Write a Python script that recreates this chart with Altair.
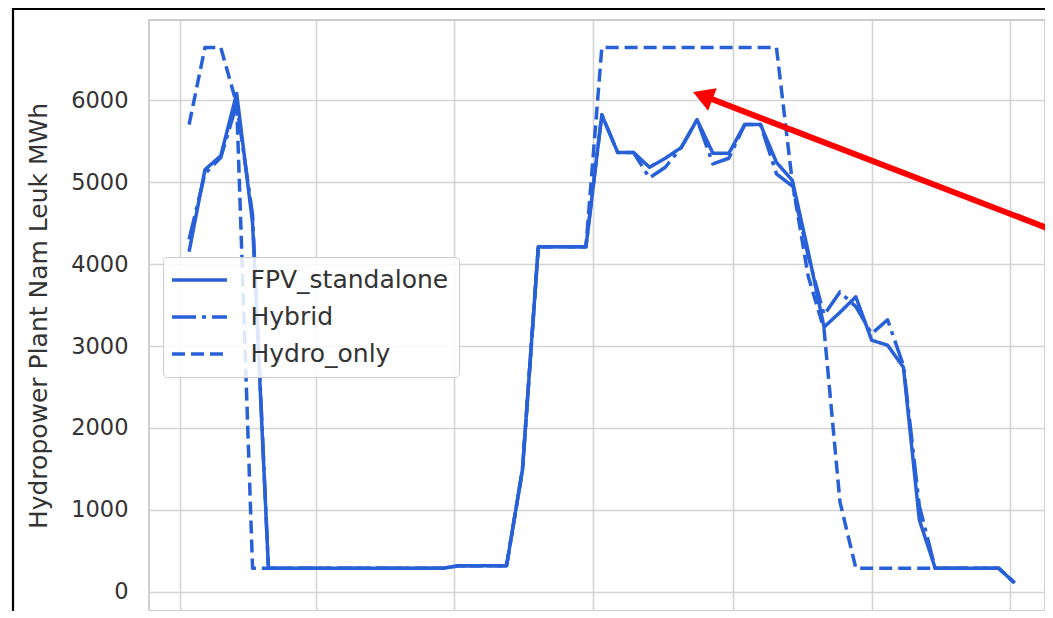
import altair as alt
import pandas as pd

BLUE = "#2860d8"
FONT = "DejaVu Sans"

# weekly observations (week-ending Sundays)
week_ending = pd.date_range("2020-01-05", periods=53, freq="7D").strftime("%Y-%m-%d").tolist()

series_names = ["FPV_standalone", "Hybrid", "Hydro_only"]

fpv_standalone = [
    4150, 5150, 5320, 6080, 4500,
    290, 290, 290, 290, 290, 290, 290, 290, 290, 290, 290, 290,
    320, 320, 320, 320,
    1490, 4210, 4210, 4210, 4210,
    5820, 5360, 5360, 5180, 5290, 5420, 5760, 5350, 5350, 5700, 5700, 5240,
    5020, 4150, 3230, 3410, 3600, 3070, 3010, 2740, 880,
    290, 290, 290, 290, 290, 110,
]
hybrid = [
    4300, 5100, 5300, 5950, 4600,
    290, 290, 290, 290, 290, 290, 290, 290, 290, 290, 290, 290,
    320, 320, 320, 320,
    1490, 4210, 4210, 4210, 4210,
    5820, 5360, 5360, 5050, 5180, 5420, 5760, 5220, 5290, 5700, 5700, 5100,
    4950, 4100, 3380, 3660, 3480, 3150, 3320, 2760, 1050,
    290, 290, 290, 290, 290, 110,
]
hydro_only = [
    5700, 6640, 6640, 5950, 290,
    290, 290, 290, 290, 290, 290, 290, 290, 290, 290, 290, 290,
    320, 320, 320, 320,
    1490, 4210, 4210, 4210, 4210,
    6640, 6640, 6640, 6640, 6640, 6640, 6640, 6640, 6640, 6640, 6640, 6640,
    5000, 3850, 3200, 1100, 290,
    290, 290, 290, 290, 290, 290, 290, 290, 290, 110,
]

y_ticks = [0, 1000, 2000, 3000, 4000, 5000, 6000]
x_grid = [(2020, 1, 1), (2020, 3, 1), (2020, 5, 1), (2020, 7, 1),
          (2020, 9, 1), (2020, 11, 1), (2021, 1, 1)]

# red annotation arrow (tail -> base of head) and head position
arrow_dates = ["2021-01-23T01:00:00Z", "2020-08-21T06:30:00Z"]
arrow_values = [4378, 6024]
arrow_head_date = ["2020-08-18T11:45:00Z"]
arrow_head_value = [6052]

rows = []
for name, vals in zip(series_names, [fpv_standalone, hybrid, hydro_only]):
    for d, v in zip(week_ending, vals):
        rows.append({"date": d, "value": v, "series": name})
df = pd.DataFrame(rows)

arrow_df = pd.DataFrame({"date": arrow_dates, "value": arrow_values, "k": [0, 1]})
head_df = pd.DataFrame({"date": arrow_head_date, "value": arrow_head_value})
frame_df = pd.DataFrame({"k": [0]})

PW, PH = 896, 591

x_scale = alt.Scale(
    type="utc",
    domain=[alt.DateTime(year=2019, month=12, date=18, hours=8, utc=True),
            alt.DateTime(year=2021, month=1, date=16, hours=10, utc=True)],
)
y_scale = alt.Scale(domain=[-232, 6976], nice=False, zero=False)

x_axis = alt.Axis(
    values=[alt.DateTime(year=a, month=b, date=c, utc=True) for a, b, c in x_grid],
    labels=False, ticks=False, domain=False, grid=True, title=None,
    gridColor="#d4d4d4", gridWidth=1.6,
)
y_axis = alt.Axis(
    values=y_ticks, format="d", grid=True, gridColor="#d4d4d4", gridWidth=1.6,
    ticks=False, tickSize=0, domain=False,
    labelFont=FONT, labelFontSize=22.5, labelColor="#333333", labelPadding=21,
    title="Hydropower Plant  Nam Leuk MWh", titleFont=FONT, titleFontSize=25,
    titleFontWeight="normal", titleColor="#333333",
    titleX=-98, titleY=PH / 2, titleAngle=270, titleBaseline="bottom", titleAlign="center",
)

X = alt.X("date:T", scale=x_scale, axis=x_axis)
Y = alt.Y("value:Q", scale=y_scale, axis=y_axis)

lines = alt.Chart(df).mark_line(strokeWidth=3.5, color=BLUE, strokeJoin="round").encode(
    x=X, y=Y,
    strokeDash=alt.StrokeDash(
        "series:N",
        scale=alt.Scale(domain=series_names, range=[[1, 0], [24, 6, 4, 6], [13, 6]]),
        legend=alt.Legend(
            title=None, orient="none", legendX=14, legendY=237,
            symbolType="M-2.5,0L2.5,0", symbolSize=484, symbolStrokeWidth=3.5,
            symbolStrokeColor=BLUE, symbolFillColor="transparent",
            symbolOffset=13.5, labelOffset=38, labelLimit=500,
            labelFont=FONT, labelFontSize=25, labelColor="#333333",
            padding=10, rowPadding=11,
            fillColor="rgba(255,255,255,0.85)", strokeColor="#cccccc", cornerRadius=4,
        ),
    ),
)

arrow_line = alt.Chart(arrow_df).mark_line(color="#ff0000", strokeWidth=6, strokeCap="butt").encode(
    x=X, y=Y, order="k:Q"
)
arrow_head = alt.Chart(head_df).mark_point(
    shape="triangle-up", filled=True, size=576, angle=291, color="#ff0000", opacity=1, strokeWidth=0
).encode(x=X, y=Y)

frame_top = alt.Chart(frame_df).mark_rule(color="#000000", strokeWidth=2.2).encode(
    x=alt.value(-136), x2=alt.value(PW + 20), y=alt.value(-11)
)
frame_left = alt.Chart(frame_df).mark_rule(color="#000000", strokeWidth=2.2).encode(
    x=alt.value(-136), y=alt.value(-12), y2=alt.value(PH + 20)
)

chart = alt.layer(lines, arrow_line, arrow_head, frame_top, frame_left).properties(
    width=PW, height=PH,
    autosize=alt.AutoSizeParams(type="none"),
    padding={"left": 141, "top": 12, "right": 0, "bottom": 0},
    background="white",
).configure_view(stroke="#cccccc", strokeWidth=1.8)

chart.save("out.html", embed_options={"renderer": "svg", "actions": False})
